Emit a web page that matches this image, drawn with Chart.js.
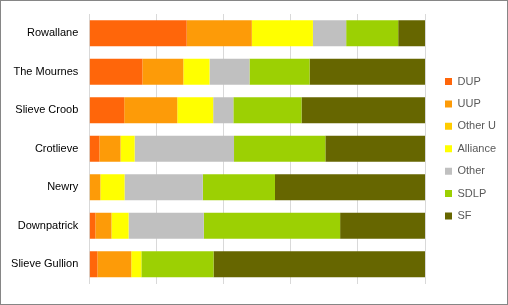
<!DOCTYPE html>
<html>
<head>
<meta charset="utf-8">
<script src="https://cdn.jsdelivr.net/npm/chart.js@4/dist/chart.umd.min.js"></script>
<style>
  html, body { margin: 0; padding: 0; background: #fff; }
  #wrap { width: 506px; height: 303px; border: 1px solid #868686; position: relative; }
</style>
</head>
<body>
<div id="wrap"><canvas id="chart" width="506" height="303"></canvas></div>
<script>
// --- DATOS (porcentaje de voto por zona) ---
const areas = ['Rowallane', 'The Mournes', 'Slieve Croob', 'Crotlieve', 'Newry', 'Downpatrick', 'Slieve Gullion']

const dup      = [29.0, 15.8, 10.4, 3.0, 0.0, 1.8, 2.4]
const uup      = [19.4, 12.2, 15.8, 6.3, 3.3, 4.8, 10.1]
const otherU   = [0, 0, 0, 0, 0, 0, 0]
const alliance = [18.2, 7.8, 10.7, 4.2, 7.2, 5.1, 3.0]
const other    = [9.9, 11.9, 6.0, 29.6, 23.3, 22.4, 0.0]
const sdlp     = [15.5, 17.9, 20.3, 27.2, 21.5, 40.6, 21.5]
const sf       = [8.0, 34.4, 36.8, 29.7, 44.7, 25.3, 63.0]

const xTicks = [0, 20, 40, 60, 80, 100]

// colores de cada partido
const partyColors = {
  'DUP': '#FF660A',
  'UUP': '#FD9B08',
  'Other U': '#FFCC00',
  'Alliance': '#FFFF00',
  'Other': '#C0C0C0',
  'SDLP': '#9CD003',
  'SF': '#666600'
}

const series = [
  ['DUP', dup], ['UUP', uup], ['Other U', otherU], ['Alliance', alliance],
  ['Other', other], ['SDLP', sdlp], ['SF', sf]
]

const datasets = series.map(([label, data]) => ({
  label: label,
  data: data,
  backgroundColor: partyColors[label],
  borderWidth: 0,
  barPercentage: 0.67,
  categoryPercentage: 1
}))

// mover la leyenda a su sitio (hay hueco entre el gráfico y la leyenda)
const legendShift = {
  id: 'legendShift',
  afterLayout(chart) {
    const lg = chart.legend
    if (!lg) return
    const dx = 444 - (lg.left + lg.options.labels.padding)
    lg.left += dx
    lg.right += dx
  }
}

Chart.defaults.font.family = "'Liberation Sans', Arial, sans-serif"

new Chart(document.getElementById('chart'), {
  type: 'bar',
  data: { labels: areas, datasets: datasets },
  plugins: [legendShift],
  options: {
    indexAxis: 'y',
    responsive: false,
    animation: false,
    layout: { padding: { top: 13, bottom: 20.5, left: 0, right: 9.5 } },
    plugins: {
      legend: {
        position: 'right',
        align: 'center',
        labels: {
          boxWidth: 7,
          boxHeight: 7,
          padding: 11.4,
          color: '#595959',
          font: { size: 11 }
        }
      },
      tooltip: { enabled: false }
    },
    scales: {
      x: {
        stacked: true,
        min: 0,
        max: 100,
        afterBuildTicks: (s) => { s.ticks = xTicks.map(v => ({ value: v })) },
        afterFit: (s) => { s.height = 0; s.paddingLeft = 0; s.paddingRight = 0 },
        grid: { color: '#D9D9D9', lineWidth: 1, drawTicks: false },
        border: { display: false },
        ticks: { display: false }
      },
      y: {
        stacked: true,
        afterFit: (s) => { s.width = 88.3; s.paddingTop = 0; s.paddingBottom = 0 },
        grid: { display: false, drawTicks: false },
        border: { display: false },
        ticks: { color: '#000', padding: 11, font: { size: 11 } }
      }
    }
  }
})
</script>
</body>
</html>
